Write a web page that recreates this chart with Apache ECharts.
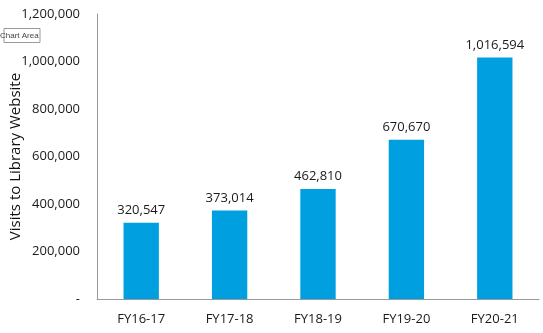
<!DOCTYPE html>
<html>
<head>
<meta charset="utf-8">
<script src="https://cdn.jsdelivr.net/npm/echarts@6/dist/echarts.min.js"></script>
<style>html,body{margin:0;padding:0;background:#fff}#c{width:543px;height:333px}</style>
</head>
<body>
<div id="c"></div>
<script>
const categories = ["FY16-17", "FY17-18", "FY18-19", "FY19-20", "FY20-21"];
const visits = [320547, 373014, 462810, 670670, 1016594];
const yTitle = "Visits to Library Website";

const chart = echarts.init(document.getElementById('c'));
const fmt = v => v === 0 ? '-' : v.toLocaleString('en-US');
chart.setOption({
  animation: false,
  textStyle: { fontFamily: 'Open Sans' },
  grid: { left: 97, right: 4, top: 14, bottom: 34, containLabel: false, outerBoundsMode: 'none' },
  xAxis: {
    type: 'category', data: categories,
    axisLine: { lineStyle: { color: '#999', width: 1 } },
    axisTick: { show: false },
    axisLabel: { color: '#1a1a1a', fontSize: 13, margin: 14 }
  },
  yAxis: {
    type: 'value', min: 0, max: 1200000, interval: 200000,
    name: yTitle, nameLocation: 'middle', nameGap: 74, nameRotate: 90,
    nameMoveOverlap: false,
    nameTextStyle: { color: '#111', fontSize: 15 },
    axisLine: { show: true, lineStyle: { color: '#999', width: 1 } },
    axisTick: { show: false },
    splitLine: { show: false },
    axisLabel: { color: '#1a1a1a', fontSize: 13, margin: 17, formatter: fmt }
  },
  series: [{
    type: 'bar', data: visits, barWidth: '40%',
    itemStyle: { color: '#009FDF' },
    label: { show: true, position: 'top', distance: 6, color: '#1a1a1a', fontSize: 13,
      formatter: p => fmt(p.value) }
  }],
  graphic: [{
    type: 'group', left: 0, top: 28,
    children: [
      { type: 'rect', shape: { x: 0, y: 0, width: 36, height: 14 }, style: { fill: '#fff', stroke: '#999', lineWidth: 1 } },
      { type: 'text', x: -4, y: 3, style: { text: 'Chart Area', fontSize: 8, fill: '#444', fontFamily: 'Liberation Sans' } }
    ]
  }]
});
</script>
</body>
</html>
